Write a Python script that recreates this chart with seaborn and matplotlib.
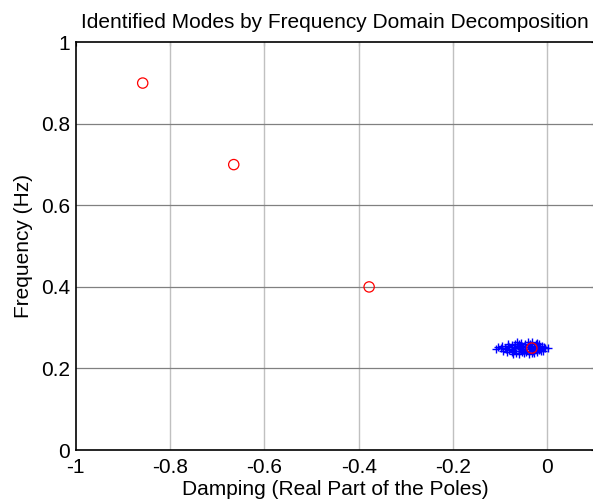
import matplotlib
matplotlib.use("Agg")
import matplotlib.pyplot as plt
import seaborn as sns
import pandas as pd

# Identified modes (red circles): damping vs frequency
mode_damping = [-0.858, -0.665, -0.378, -0.033]
mode_freq = [0.90, 0.70, 0.40, 0.25]

# Pole estimates clustered around the dominant 0.25 Hz mode (blue crosses)
pole_damping = [
    -0.072, -0.061, -0.050, -0.039, -0.028,
    -0.086, -0.075, -0.067, -0.054, -0.045, -0.032, -0.023, -0.013,
    -0.095, -0.082, -0.072, -0.061, -0.052, -0.040, -0.031, -0.018, -0.009,
    -0.109, -0.099, -0.088, -0.076, -0.069, -0.056, -0.047, -0.035, -0.026, -0.015, -0.005,
    -0.104, -0.090, -0.081, -0.071, -0.059, -0.051, -0.038, -0.029, -0.016, -0.007, 0.002,
    -0.097, -0.084, -0.075, -0.063, -0.054, -0.042, -0.033, -0.020, -0.011,
    -0.083, -0.069, -0.060, -0.047, -0.038, -0.025, -0.017,
    -0.065, -0.055, -0.042, -0.032, -0.022,
]
pole_freq = [
    0.236, 0.235, 0.237, 0.236, 0.237,
    0.241, 0.240, 0.239, 0.241, 0.240, 0.239, 0.241, 0.242,
    0.244, 0.245, 0.243, 0.244, 0.245, 0.243, 0.244, 0.245, 0.244,
    0.248, 0.249, 0.247, 0.248, 0.249, 0.247, 0.248, 0.249, 0.247, 0.248, 0.249,
    0.252, 0.251, 0.253, 0.252, 0.251, 0.253, 0.252, 0.251, 0.252, 0.253, 0.250,
    0.256, 0.255, 0.257, 0.256, 0.255, 0.257, 0.256, 0.255, 0.256,
    0.260, 0.259, 0.261, 0.260, 0.259, 0.261, 0.259,
    0.264, 0.263, 0.265, 0.264, 0.263,
]

x_ticks = [-1, -0.8, -0.6, -0.4, -0.2, 0]
x_tick_labels = ["-1", "-0.8", "-0.6", "-0.4", "-0.2", "0"]
y_ticks = [0, 0.2, 0.4, 0.6, 0.8, 1]
y_tick_labels = ["0", "0.2", "0.4", "0.6", "0.8", "1"]

sns.set_theme(style="white")
plt.rcParams["font.family"] = ["Liberation Sans", "DejaVu Sans"]

FS = 15

fig = plt.figure(figsize=(5.93, 5.04), dpi=100)
ax = fig.add_axes([0.1277, 0.1071, 0.875, 0.8090])

poles = pd.DataFrame({"damping": pole_damping, "freq": pole_freq})
modes = pd.DataFrame({"damping": mode_damping, "freq": mode_freq})

sns.scatterplot(data=poles, x="damping", y="freq", ax=ax, marker="+",
                color="#0000ff", s=30, linewidth=1.0, zorder=3)
sns.scatterplot(data=modes, x="damping", y="freq", ax=ax, marker="o",
                facecolor="none", edgecolor="#ff0000", s=55, linewidth=0.9,
                zorder=4)

ax.set_xlim(-1, 0.1)
ax.set_ylim(0, 1)
ax.set_xticks(x_ticks)
ax.set_xticklabels(x_tick_labels)
ax.set_yticks(y_ticks)
ax.set_yticklabels(y_tick_labels)

# grid lines: vertical lighter than horizontal
for xv in x_ticks[1:]:
    ax.axvline(xv, color="#c0c0c0", linewidth=1.0, zorder=1)
for yv in y_ticks[1:-1]:
    ax.axhline(yv, color="#808080", linewidth=0.9, zorder=1)

ax.tick_params(direction="in", length=3, width=0.8, colors="black",
               labelsize=FS, top=True, right=True)
ax.tick_params(axis="x", pad=6)
ax.tick_params(axis="y", pad=4)
for s in ax.spines.values():
    s.set_color("black")
    s.set_linewidth(1.2)

ax.set_title("Identified Modes by Frequency Domain Decomposition",
             fontsize=FS, pad=10, color="black")
ax.set_xlabel("Damping (Real Part of the Poles)", fontsize=FS, labelpad=2,
              color="black")
ax.set_ylabel("Frequency (Hz)", fontsize=FS, labelpad=6, color="black")

fig.savefig("out.png", dpi=100, facecolor="white")
